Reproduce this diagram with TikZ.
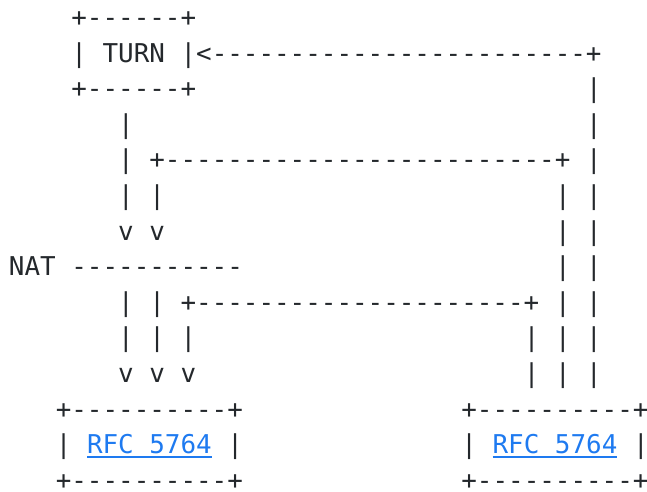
\documentclass[tikz,border=0pt]{standalone}
\usepackage{fontspec}
\setmonofont{DejaVu Sans Mono}
\usepackage{tikz}
\definecolor{ink}{RGB}{36,40,44}
\definecolor{linkblue}{RGB}{30,122,240}

\begin{document}
\begin{tikzpicture}[x=15.6pt,y=-35.6pt,
	asc/.style={inner sep=0pt,outer sep=0pt,anchor=base west,text=ink,font=\fontsize{25.9}{30}\selectfont\ttfamily},
	rfc/.style={asc,text=linkblue}]
\useasboundingbox (-9pt,26.4pt) rectangle (638pt,-464.6pt);
	\node[asc] (turnTop) at (4,0) {+------+};
	\node[asc] (turnL) at (4,1) {|};
	\node[asc] (turn) at (6,1) {TURN};
	\node[asc] (turnR) at (11,1) {|<------------------------+};
	\node[asc] (turnBot) at (4,2) {+------+};
	\node[asc] (outR2) at (37,2) {|};

	\node[asc] (pA3) at (7,3) {|};
	\node[asc] (outR3) at (37,3) {|};

	\node[asc] (pA4) at (7,4) {|};
	\node[asc] (midTop) at (9,4) {+-------------------------+};
	\node[asc] (outR4) at (37,4) {|};

	\node[asc] (pA5) at (7,5) {|};
	\node[asc] (pB5) at (9,5) {|};
	\node[asc] (midR5) at (35,5) {|};
	\node[asc] (outR5) at (37,5) {|};

	\node[asc] (vA6) at (7,6) {v};
	\node[asc] (vB6) at (9,6) {v};
	\node[asc] (midR6) at (35,6) {|};
	\node[asc] (outR6) at (37,6) {|};

	\node[asc] (nat) at (0,7) {NAT};
	\node[asc] (natLine) at (4,7) {-----------};
	\node[asc] (midR7) at (35,7) {|};
	\node[asc] (outR7) at (37,7) {|};

	\node[asc] (pA8) at (7,8) {|};
	\node[asc] (pB8) at (9,8) {|};
	\node[asc] (inTop) at (11,8) {+---------------------+};
	\node[asc] (midR8) at (35,8) {|};
	\node[asc] (outR8) at (37,8) {|};

	\node[asc] (pA9) at (7,9) {|};
	\node[asc] (pB9) at (9,9) {|};
	\node[asc] (pC9) at (11,9) {|};
	\node[asc] (inR9) at (33,9) {|};
	\node[asc] (midR9) at (35,9) {|};
	\node[asc] (outR9) at (37,9) {|};

	\node[asc] (vA10) at (7,10) {v};
	\node[asc] (vB10) at (9,10) {v};
	\node[asc] (vC10) at (11,10) {v};
	\node[asc] (inR10) at (33,10) {|};
	\node[asc] (midR10) at (35,10) {|};
	\node[asc] (outR10) at (37,10) {|};

	\node[asc] (leftTop) at (3,11) {+----------+};
	\node[asc] (rightTop) at (29,11) {+----------+};
	\node[asc] (leftL) at (3,12) {|};
	\node[rfc] (rfcL) at (5,12) {RFC 5764};
	\node[asc] (leftR) at (14,12) {|};
	\node[asc] (rightL) at (29,12) {|};
	\node[rfc] (rfcR) at (31,12) {RFC 5764};
	\node[asc] (rightR) at (40,12) {|};
	\node[asc] (leftBot) at (3,13) {+----------+};
	\node[asc] (rightBot) at (29,13) {+----------+};

	\draw[linkblue,line width=1.4pt] ([yshift=-3.5pt]rfcL.base west) -- ([yshift=-3.5pt]rfcL.base east);
	\draw[linkblue,line width=1.4pt] ([yshift=-3.5pt]rfcR.base west) -- ([yshift=-3.5pt]rfcR.base east);
\end{tikzpicture}
\end{document}
